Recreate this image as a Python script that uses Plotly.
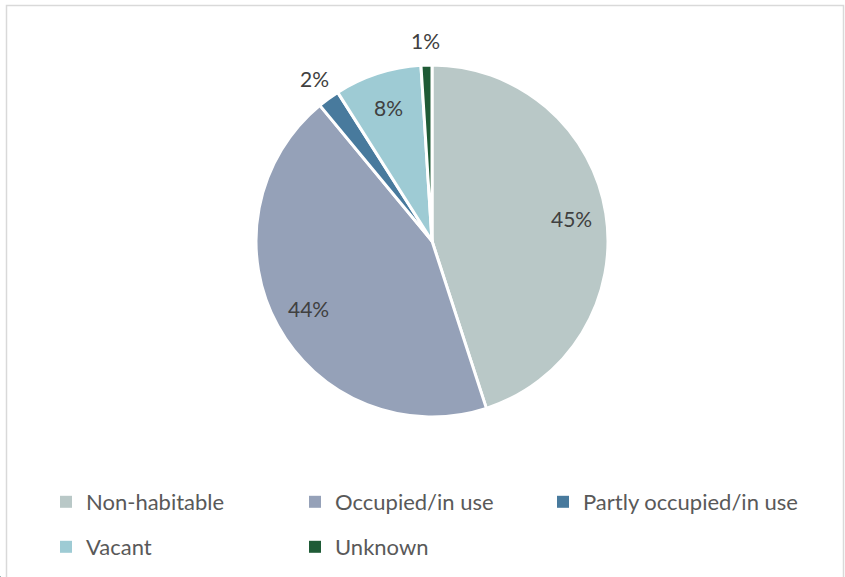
import math
import plotly.graph_objects as go

labels = ["Non-habitable", "Occupied/in use", "Partly occupied/in use", "Vacant", "Unknown"]
values = [45, 44, 2, 8, 1]
colors = ["#B9C8C7", "#95A1B8", "#487A9D", "#9ECBD4", "#1F5B36"]
label_inside = [True, True, False, True, False]
# legend grid: (column, row) for each category
legend_col = [0, 1, 2, 0, 1]
legend_row = [0, 0, 0, 1, 1]

W, H = 845, 577
cx, cy, r = 432, 241, 176

fig = go.Figure()
fig.add_trace(go.Pie(
    labels=labels,
    values=values,
    sort=False,
    direction="clockwise",
    rotation=0,
    marker=dict(colors=colors, line=dict(color="white", width=3)),
    textinfo="none",
    domain=dict(x=[(cx - r) / W, (cx + r) / W], y=[1 - (cy + r) / H, 1 - (cy - r) / H]),
    hoverinfo="label+percent",
    showlegend=False,
))

col_x = [46, 295, 543]
row_y = [502, 547]
legend_layout = {}
for i, (lab, col) in enumerate(zip(labels, colors)):
    lname = "legend" if i == 0 else f"legend{i + 1}"
    fig.add_trace(go.Pie(
        labels=[lab], values=[1], marker=dict(colors=[col]),
        textinfo="none", hoverinfo="skip", legend=lname,
        domain=dict(x=[0, 0.001], y=[0, 0.001]),
        showlegend=True,
    ))
    legend_layout[lname] = dict(
        orientation="h",
        x=col_x[legend_col[i]] / W, y=1 - row_y[legend_row[i]] / H,
        xanchor="left", yanchor="middle",
        font=dict(family="Lato", size=22, color="#595959"),
        bgcolor="rgba(0,0,0,0)",
    )

# percentage labels placed from the data (mid-angle of each slice)
total = sum(values)
cum = 0
annotations = []
for val, inside in zip(values, label_inside):
    mid = (cum + val / 2) / total * 2 * math.pi
    cum += val
    f = 0.80 if inside else 1.14
    x = cx + f * r * math.sin(mid)
    y = cy - f * r * math.cos(mid)
    annotations.append(dict(
        x=x / W, y=1 - y / H, xref="paper", yref="paper",
        text=f"{round(val / total * 100)}%", showarrow=False,
        xanchor="center", yanchor="middle",
        font=dict(family="Lato", size=21, color="#404040"),
    ))

fig.update_layout(
    width=W, height=H,
    margin=dict(l=0, r=0, t=0, b=0),
    paper_bgcolor="white",
    showlegend=True,
    annotations=annotations,
    shapes=[dict(type="rect", xref="paper", yref="paper",
                 x0=6.5 / W, x1=843.5 / W, y0=-0.01, y1=1 - 5.5 / H,
                 line=dict(color="#D9D9D9", width=1.5), fillcolor="rgba(0,0,0,0)")],
    **legend_layout,
)

fig.write_html("out.html", config={"displayModeBar": False},
               post_script="document.body.style.margin='0';")
